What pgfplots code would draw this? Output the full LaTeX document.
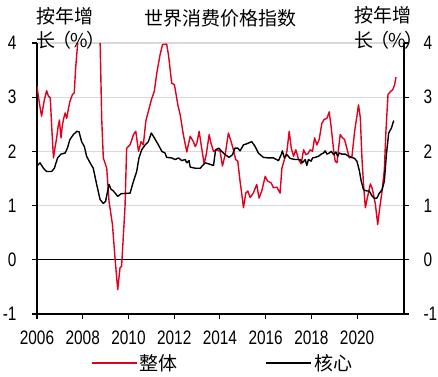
\documentclass[border=0pt]{standalone}
\usepackage{pgfplots}
\pgfplotsset{compat=1.18}
\usepackage{fontspec}
\setmainfont{Liberation Sans}
\newfontfamily\tickfont[FakeStretch=0.79]{Liberation Sans}
\newfontfamily\cjk{Noto Sans CJK SC}
\definecolor{cpired}{RGB}{225,0,30}
\definecolor{gridgray}{RGB}{217,217,217}
\pgfplotstableread{
x y
2006.00 3.20
2006.10 2.90
2006.20 2.65
2006.32 2.95
2006.42 3.12
2006.50 3.02
2006.58 2.99
2006.65 2.40
2006.72 1.88
2006.80 2.10
2006.86 2.25
2006.92 2.45
2006.98 2.58
2007.05 2.25
2007.10 2.45
2007.15 2.58
2007.23 2.71
2007.30 2.61
2007.37 2.78
2007.44 2.92
2007.55 3.05
2007.63 3.08
2007.69 3.54
2007.78 4.00
2007.85 4.30
2007.95 4.50
2008.10 4.90
2008.25 5.30
2008.40 5.60
2008.55 5.50
2008.65 4.90
2008.76 4.03
2008.83 2.60
2008.90 1.88
2009.05 1.69
2009.15 1.08
2009.30 0.65
2009.41 0.04
2009.53 -0.55
2009.63 -0.15
2009.70 -0.12
2009.78 0.47
2009.85 0.99
2009.92 2.06
2010.07 2.12
2010.22 2.31
2010.32 2.37
2010.44 2.00
2010.55 2.18
2010.65 2.12
2010.76 2.56
2010.87 2.74
2011.00 2.95
2011.13 3.11
2011.24 3.45
2011.38 3.78
2011.49 3.97
2011.67 3.98
2011.75 3.78
2011.89 3.26
2012.01 3.23
2012.16 2.86
2012.26 2.68
2012.40 2.31
2012.55 1.99
2012.70 2.28
2012.84 2.18
2012.92 2.09
2012.99 2.15
2013.09 2.37
2013.18 2.12
2013.31 1.77
2013.40 1.94
2013.53 2.31
2013.61 2.15
2013.72 2.00
2013.86 2.03
2014.01 2.00
2014.11 1.73
2014.23 1.94
2014.37 2.34
2014.49 2.18
2014.59 2.03
2014.69 1.85
2014.78 1.82
2014.88 1.45
2014.96 1.20
2015.03 0.96
2015.13 1.23
2015.22 1.27
2015.32 1.15
2015.46 1.23
2015.61 1.39
2015.71 1.14
2015.83 1.27
2015.98 1.54
2016.09 1.45
2016.24 1.42
2016.34 1.33
2016.49 1.34
2016.63 1.23
2016.71 1.69
2016.82 1.85
2016.93 2.00
2017.03 2.37
2017.12 2.06
2017.22 1.91
2017.32 2.03
2017.44 1.85
2017.55 1.77
2017.66 2.03
2017.76 1.94
2017.85 1.96
2017.95 2.03
2018.05 2.00
2018.14 2.25
2018.24 2.12
2018.34 2.22
2018.46 2.52
2018.56 2.59
2018.68 2.61
2018.78 2.73
2018.87 2.43
2018.97 2.03
2019.04 1.82
2019.12 1.79
2019.19 2.06
2019.26 2.31
2019.36 2.25
2019.45 2.22
2019.55 2.06
2019.66 1.88
2019.77 1.89
2019.89 2.37
2019.99 2.65
2020.06 2.86
2020.14 2.62
2020.21 1.88
2020.28 1.39
2020.36 0.96
2020.43 1.11
2020.58 1.40
2020.65 1.33
2020.72 1.20
2020.80 1.02
2020.90 0.65
2020.97 0.90
2021.09 1.27
2021.19 1.66
2021.26 2.37
2021.35 3.05
2021.45 3.10
2021.56 3.14
2021.64 3.23
2021.70 3.37
}\headline
\pgfplotstableread{
x y
2006.00 1.73
2006.13 1.79
2006.28 1.69
2006.42 1.63
2006.64 1.63
2006.76 1.69
2006.90 1.88
2007.05 1.95
2007.23 1.97
2007.33 2.06
2007.44 2.22
2007.59 2.31
2007.74 2.37
2007.84 2.36
2007.95 2.18
2008.07 2.09
2008.17 1.91
2008.32 1.79
2008.46 1.69
2008.61 1.39
2008.76 1.11
2008.90 1.04
2009.00 1.08
2009.09 1.27
2009.15 1.39
2009.24 1.30
2009.34 1.27
2009.53 1.17
2009.68 1.22
2010.07 1.23
2010.22 1.45
2010.36 1.63
2010.46 1.88
2010.58 2.03
2010.73 2.12
2010.87 2.18
2011.00 2.34
2011.13 2.25
2011.31 2.12
2011.46 2.00
2011.60 1.97
2011.67 1.89
2011.89 1.88
2012.04 1.85
2012.19 1.88
2012.33 1.83
2012.48 1.85
2012.55 1.79
2012.65 1.83
2012.70 1.71
2012.92 1.69
2013.14 1.69
2013.24 1.74
2013.36 1.79
2013.58 1.76
2013.72 1.74
2013.81 2.03
2013.95 2.06
2014.08 2.00
2014.23 1.94
2014.40 1.89
2014.55 1.94
2014.66 2.06
2014.78 2.06
2014.88 2.01
2015.03 2.12
2015.17 2.14
2015.39 2.18
2015.54 2.09
2015.68 1.97
2015.90 1.89
2016.12 1.88
2016.34 1.88
2016.56 1.83
2016.68 1.94
2016.73 2.01
2016.82 1.88
2016.93 1.94
2017.07 1.87
2017.29 1.85
2017.51 1.85
2017.61 1.79
2017.73 1.85
2017.80 1.74
2017.87 1.85
2017.99 1.82
2018.05 1.88
2018.17 1.89
2018.31 1.91
2018.43 1.95
2018.53 1.97
2018.60 2.01
2018.68 1.95
2018.78 1.97
2018.87 2.00
2018.97 1.94
2019.07 1.99
2019.15 1.91
2019.22 1.97
2019.34 1.95
2019.48 1.95
2019.63 1.91
2019.77 1.89
2019.89 1.87
2019.99 1.82
2020.09 1.66
2020.18 1.45
2020.28 1.29
2020.43 1.27
2020.53 1.27
2020.65 1.18
2020.77 1.13
2020.87 1.14
2020.97 1.23
2021.09 1.29
2021.19 1.45
2021.28 1.94
2021.38 2.34
2021.50 2.43
2021.60 2.57
}\core
\pgfplotsset{
  mybase/.style={
    scale only axis, width=367bp, height=271bp,
    at={(37bp,63bp)}, anchor=south west,
    xmin=2006, xmax=2022.05, ymin=-1, ymax=4,
    ytick={-1,0,...,4},
    tick align=outside, major tick length=5bp,
    axis line style={line width=1.3bp},
    major tick style={line width=1.1bp, black},
    /pgf/number format/assume math mode=true,
    tick label style={font=\tickfont\fontsize{19.5bp}{21bp}\selectfont},
  }
}
\newcommand{\pct}{长\kern-3bp（\kern-1bp\%\kern-1bp）}
\begin{document}
\begin{tikzpicture}
\useasboundingbox (0,0) rectangle (438bp,377bp);
\begin{axis}[mybase,
  axis x line*=bottom, axis y line*=left,
  xtick={2006,2008,...,2020},
  x tick label style={/pgf/number format/1000 sep={}, yshift=-8bp},
  y tick label style={xshift=-12bp},
  ymajorgrids, grid style={draw=gridgray, line width=1.2bp},
  legend columns=2,
  legend style={at={(0.506,-0.181)}, anchor=center, draw=none, fill=none,
    font=\cjk\fontsize{19bp}{21bp}\selectfont,
    /tikz/every even column/.append style={column sep=86bp}},
  legend image code/.code={\draw[#1] (-3bp,0bp) -- (42bp,0bp);},
]
\draw[black, line width=1.3bp] (axis cs:2006,0) -- (axis cs:2022.05,0);
\addplot[cpired, line width=1.4bp, line join=round] table[x=x,y=y]{\headline};
\addlegendentry{整体}
\addplot[black, line width=1.4bp, line join=round] table[x=x,y=y]{\core};
\addlegendentry{核心}
\end{axis}
\begin{axis}[mybase,
  axis x line=none, axis y line*=right,
  y tick label style={xshift=11bp},
]
\end{axis}
\begin{scope}[every node/.style={inner sep=0pt, font=\cjk\fontsize{19bp}{21bp}\selectfont}]
\node at (220bp,359bp) {世界消费价格指数};
\node[anchor=west] at (36bp,361bp) {按年增};
\node[anchor=west] at (36bp,337bp) {\pct};
\node[anchor=west] at (354bp,362bp) {按年增};
\node[anchor=west] at (354bp,337bp) {\pct};
\end{scope}
\end{tikzpicture}
\end{document}
